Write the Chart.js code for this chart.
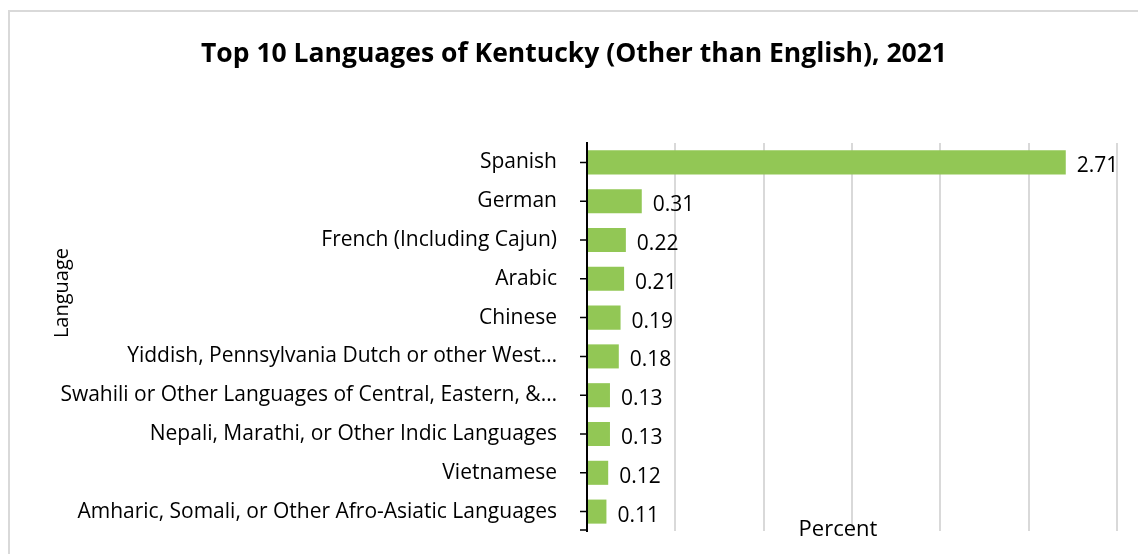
<!DOCTYPE html>
<html>
<head>
<meta charset="utf-8">
<script src="https://cdn.jsdelivr.net/npm/chart.js@4"></script>
<style>
  html, body { margin: 0; padding: 0; background: #fff; }
  #wrap { position: relative; width: 1138px; height: 554px; overflow: hidden; }
  #frame { position: absolute; left: 8px; top: 10px; width: 1140px; height: 560px; border: 2px solid #d9d9d9; box-sizing: border-box; }
  canvas { position: absolute; left: 0; top: 0; }
</style>
</head>
<body>
<div id="wrap">
  <div id="frame"></div>
  <canvas id="chartLanguages" width="1138" height="554"></canvas>
</div>
<script>
const chartTitle = 'Top 10 Languages of Kentucky (Other than English), 2021';
const languages = [
    "Spanish",
    "German",
    "French (Including Cajun)",
    "Arabic",
    "Chinese",
    "Yiddish, Pennsylvania Dutch or other West…",
    "Swahili or Other Languages of Central, Eastern, &…",
    "Nepali, Marathi, or Other Indic Languages",
    "Vietnamese",
    "Amharic, Somali, or Other Afro-Asiatic Languages"
];
const percents = [2.71, 0.31, 0.22, 0.21, 0.19, 0.18, 0.13, 0.13, 0.12, 0.11];
const xTicks = [0, 0.5, 1, 1.5, 2, 2.5, 3];

const fontFamily = "'Open Sans', 'Noto Sans', sans-serif";

// title, value labels, y tick marks and axis titles
const labelsPlugin = {
    id: 'labelsPlugin',
    afterDatasetsDraw(chart) {
        const ctx = chart.ctx;
        const meta = chart.getDatasetMeta(0);
        const area = chart.chartArea;
        const yScale = chart.scales.y;
        ctx.save();

        // tick marks on the category axis
        ctx.strokeStyle = '#000';
        ctx.lineWidth = 1.5;
        ctx.beginPath();
        yScale.ticks.forEach(function(t, i) {
            const y = yScale.getPixelForTick(i);
            ctx.moveTo(area.left - 7, y);
            ctx.lineTo(area.left, y);
        });
        ctx.moveTo(area.left - 7, area.bottom - 1);
        ctx.lineTo(area.left, area.bottom - 1);
        ctx.stroke();

        ctx.fillStyle = '#000';
        ctx.textBaseline = 'middle';

        ctx.textAlign = 'center';
        ctx.font = "bold 26.5px " + fontFamily;
        ctx.fillText(chartTitle, 574, 54);

        ctx.textAlign = 'left';
        ctx.font = "21px " + fontFamily;
        meta.data.forEach(function(bar, i) {
            ctx.fillText(percents[i].toFixed(2), bar.x + 11, bar.y + 4);
        });

        ctx.font = "22px " + fontFamily;
        ctx.textAlign = 'center';
        ctx.fillText('Percent', (area.left + area.right) / 2 - 14, area.bottom - 1);
        ctx.translate(62, (area.top + area.bottom) / 2 - 44);
        ctx.rotate(-Math.PI / 2);
        ctx.font = "20px " + fontFamily;
        ctx.fillText('Language', 0, 0);
        ctx.restore();
    }
};

const ctx = document.getElementById('chartLanguages').getContext('2d');
new Chart(ctx, {
    type: 'bar',
    data: {
        labels: languages,
        datasets: [{
            data: percents,
            backgroundColor: '#92c755',
            borderWidth: 0,
            categoryPercentage: 0.62,
            barPercentage: 1
        }]
    },
    options: {
        indexAxis: 'y',
        responsive: false,
        animation: false,
        layout: { padding: { left: 0, right: 21, top: 143, bottom: 0 } },
        plugins: {
            legend: { display: false },
            tooltip: { enabled: false },
            title: { display: false }
        },
        scales: {
            x: {
                min: 0,
                max: 3,
                afterBuildTicks: function(scale) {
                    scale.ticks = xTicks.map(v => ({ value: v }));
                },
                afterFit: function(scale) { scale.height = 23; },
                ticks: { display: false },
                grid: { color: '#d9d9d9', lineWidth: 2, drawTicks: false },
                border: { display: false }
            },
            y: {
                afterFit: function(scale) {
                    scale.width = 587;
                    scale.paddingTop = 0;
                    scale.paddingBottom = 0;
                },
                ticks: {
                    color: '#000',
                    font: { family: fontFamily, size: 21 },
                    padding: 22,
                    autoSkip: false
                },
                grid: { display: false },
                border: { display: true, color: '#000', width: 2 }
            }
        }
    },
    plugins: [labelsPlugin]
});
</script>
</body>
</html>
